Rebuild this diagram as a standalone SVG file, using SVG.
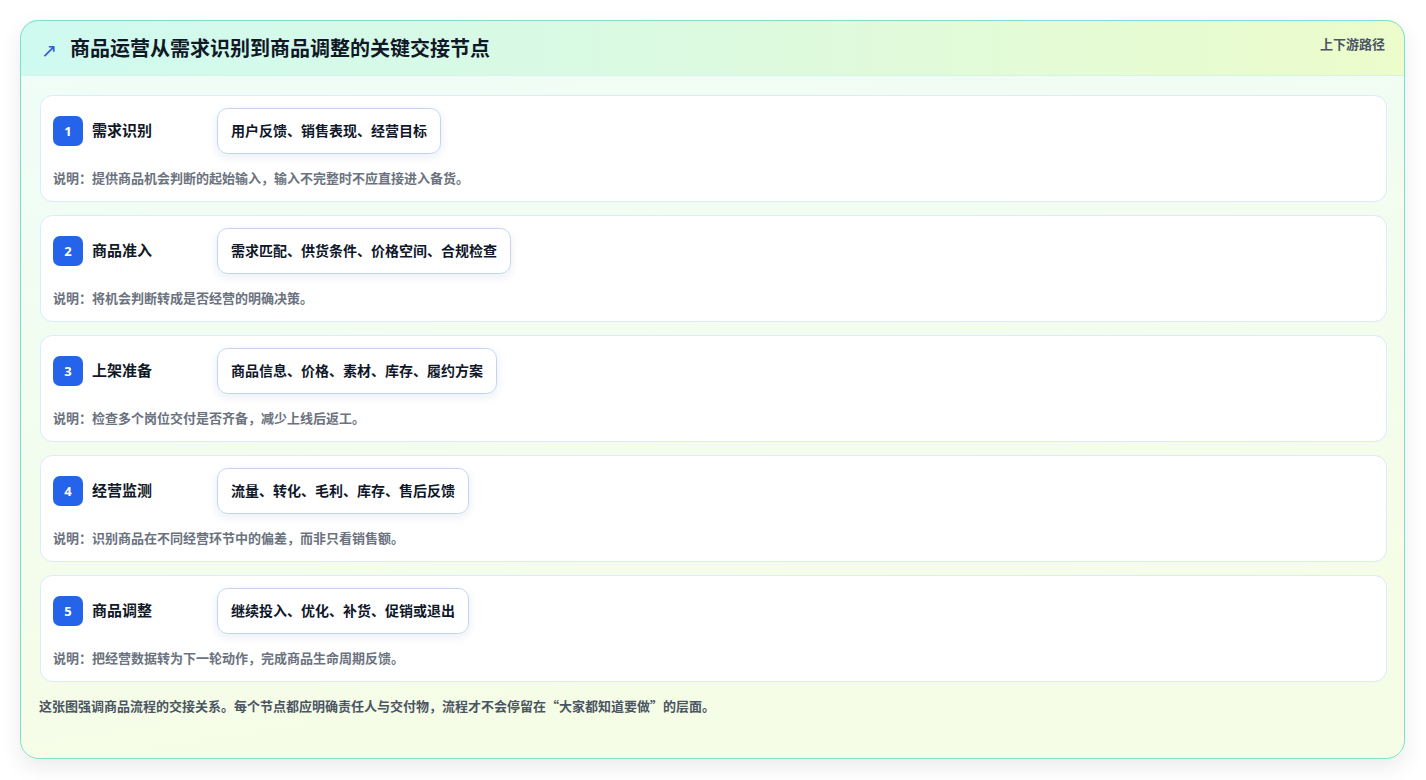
<svg xmlns="http://www.w3.org/2000/svg" width="1426" height="780" viewBox="0 0 1426 780">
<defs>
<linearGradient id="bodyG" x1="0" y1="0" x2="0.3" y2="1">
<stop offset="0" stop-color="#effdf9"/>
<stop offset="1" stop-color="#f6fde6"/>
</linearGradient>
<linearGradient id="headG" x1="0" y1="0" x2="1" y2="0">
<stop offset="0" stop-color="#cffaf0"/>
<stop offset="0.5" stop-color="#dcfae0"/>
<stop offset="1" stop-color="#ecfccb"/>
</linearGradient>
<clipPath id="cardClip"><rect x="20" y="20" width="1385" height="739" rx="18"/></clipPath>
<filter id="cardShadow" x="-5%" y="-5%" width="110%" height="115%">
<feDropShadow dx="0" dy="8" stdDeviation="10" flood-color="#0f172a" flood-opacity="0.08"/>
</filter>
<filter id="pillShadow" x="-10%" y="-30%" width="120%" height="170%">
<feDropShadow dx="0" dy="3" stdDeviation="4" flood-color="#1e3a8a" flood-opacity="0.08"/>
</filter>
<style>
.row{fill:#fefffe;stroke:#dbeafe;stroke-width:1}
.badge{fill:#2563eb}
.num{font-family:"Noto Sans","Liberation Sans",sans-serif;font-size:13px;font-weight:700;fill:#fff;text-anchor:middle}
.lbl{font-family:"Noto Sans CJK SC","Noto Sans",sans-serif;font-size:15px;font-weight:700;fill:#111827}
.pill{fill:#fff;stroke:#c3d4ef;stroke-width:1}
.ptxt{font-family:"Noto Sans CJK SC","Noto Sans",sans-serif;font-size:14px;font-weight:700;fill:#0f172a}
.desc{font-family:"Noto Sans CJK SC","Noto Sans",sans-serif;font-size:13px;font-weight:700;fill:#6b7280}
</style>
</defs>
<rect width="1426" height="780" fill="#ffffff"/>
<g id="card">
<rect x="20" y="20" width="1385" height="739" rx="18" fill="url(#bodyG)" filter="url(#cardShadow)"/>
<g clip-path="url(#cardClip)">
<rect x="20" y="20" width="1385" height="55" fill="url(#headG)"/>
<line x1="20" y1="75.5" x2="1405" y2="75.5" stroke="#d1f5ea" stroke-width="1"/>
</g>
<rect x="20.5" y="20.5" width="1384" height="738" rx="18" fill="none" stroke="#7ddfcf" stroke-width="1"/>
</g>
<g id="header">
<text x="41" y="57" font-family="DejaVu Sans,sans-serif" font-size="19" font-weight="400" fill="#2f5fd8">↗</text>
<text x="70" y="56" font-family="Noto Sans CJK SC,Noto Sans,sans-serif" font-size="20" font-weight="700" fill="#111827">商品运营从需求识别到商品调整的关键交接节点</text>
<text x="1385" y="49" text-anchor="end" font-family="Noto Sans CJK SC,Noto Sans,sans-serif" font-size="13" font-weight="700" fill="#4b5563">上下游路径</text>
</g>
<g id="node1">
<rect class="row" x="40.5" y="95.5" width="1346" height="106" rx="12"/>
<rect class="badge" x="53" y="116" width="30" height="30" rx="7"/>
<text class="num" x="68" y="136">1</text>
<text class="lbl" x="92" y="136">需求识别</text>
<rect class="pill" x="217.5" y="108.5" width="223" height="45" rx="10" filter="url(#pillShadow)"/>
<text class="ptxt" x="231" y="136">用户反馈、销售表现、经营目标</text>
<text class="desc" x="53" y="183">说明：提供商品机会判断的起始输入，输入不完整时不应直接进入备货。</text>
</g>
<g id="node2">
<rect class="row" x="40.5" y="215.5" width="1346" height="106" rx="12"/>
<rect class="badge" x="53" y="236" width="30" height="30" rx="7"/>
<text class="num" x="68" y="256">2</text>
<text class="lbl" x="92" y="256">商品准入</text>
<rect class="pill" x="217.5" y="228.5" width="293" height="45" rx="10" filter="url(#pillShadow)"/>
<text class="ptxt" x="231" y="256">需求匹配、供货条件、价格空间、合规检查</text>
<text class="desc" x="53" y="303">说明：将机会判断转成是否经营的明确决策。</text>
</g>
<g id="node3">
<rect class="row" x="40.5" y="335.5" width="1346" height="106" rx="12"/>
<rect class="badge" x="53" y="356" width="30" height="30" rx="7"/>
<text class="num" x="68" y="376">3</text>
<text class="lbl" x="92" y="376">上架准备</text>
<rect class="pill" x="217.5" y="348.5" width="279" height="45" rx="10" filter="url(#pillShadow)"/>
<text class="ptxt" x="231" y="376">商品信息、价格、素材、库存、履约方案</text>
<text class="desc" x="53" y="423">说明：检查多个岗位交付是否齐备，减少上线后返工。</text>
</g>
<g id="node4">
<rect class="row" x="40.5" y="455.5" width="1346" height="106" rx="12"/>
<rect class="badge" x="53" y="476" width="30" height="30" rx="7"/>
<text class="num" x="68" y="496">4</text>
<text class="lbl" x="92" y="496">经营监测</text>
<rect class="pill" x="217.5" y="468.5" width="251" height="45" rx="10" filter="url(#pillShadow)"/>
<text class="ptxt" x="231" y="496">流量、转化、毛利、库存、售后反馈</text>
<text class="desc" x="53" y="543">说明：识别商品在不同经营环节中的偏差，而非只看销售额。</text>
</g>
<g id="node5">
<rect class="row" x="40.5" y="575.5" width="1346" height="106" rx="12"/>
<rect class="badge" x="53" y="596" width="30" height="30" rx="7"/>
<text class="num" x="68" y="616">5</text>
<text class="lbl" x="92" y="616">商品调整</text>
<rect class="pill" x="217.5" y="588.5" width="251" height="45" rx="10" filter="url(#pillShadow)"/>
<text class="ptxt" x="231" y="616">继续投入、优化、补货、促销或退出</text>
<text class="desc" x="53" y="663">说明：把经营数据转为下一轮动作，完成商品生命周期反馈。</text>
</g>
<g id="connectors"></g>
<g id="footer">
<text x="39" y="711" font-family="Noto Sans CJK SC,Noto Sans,sans-serif" font-size="13" font-weight="700" fill="#4b5563">这张图强调商品流程的交接关系。每个节点都应明确责任人与交付物，流程才不会停留在“大家都知道要做”的层面。</text>
</g>
</svg>
